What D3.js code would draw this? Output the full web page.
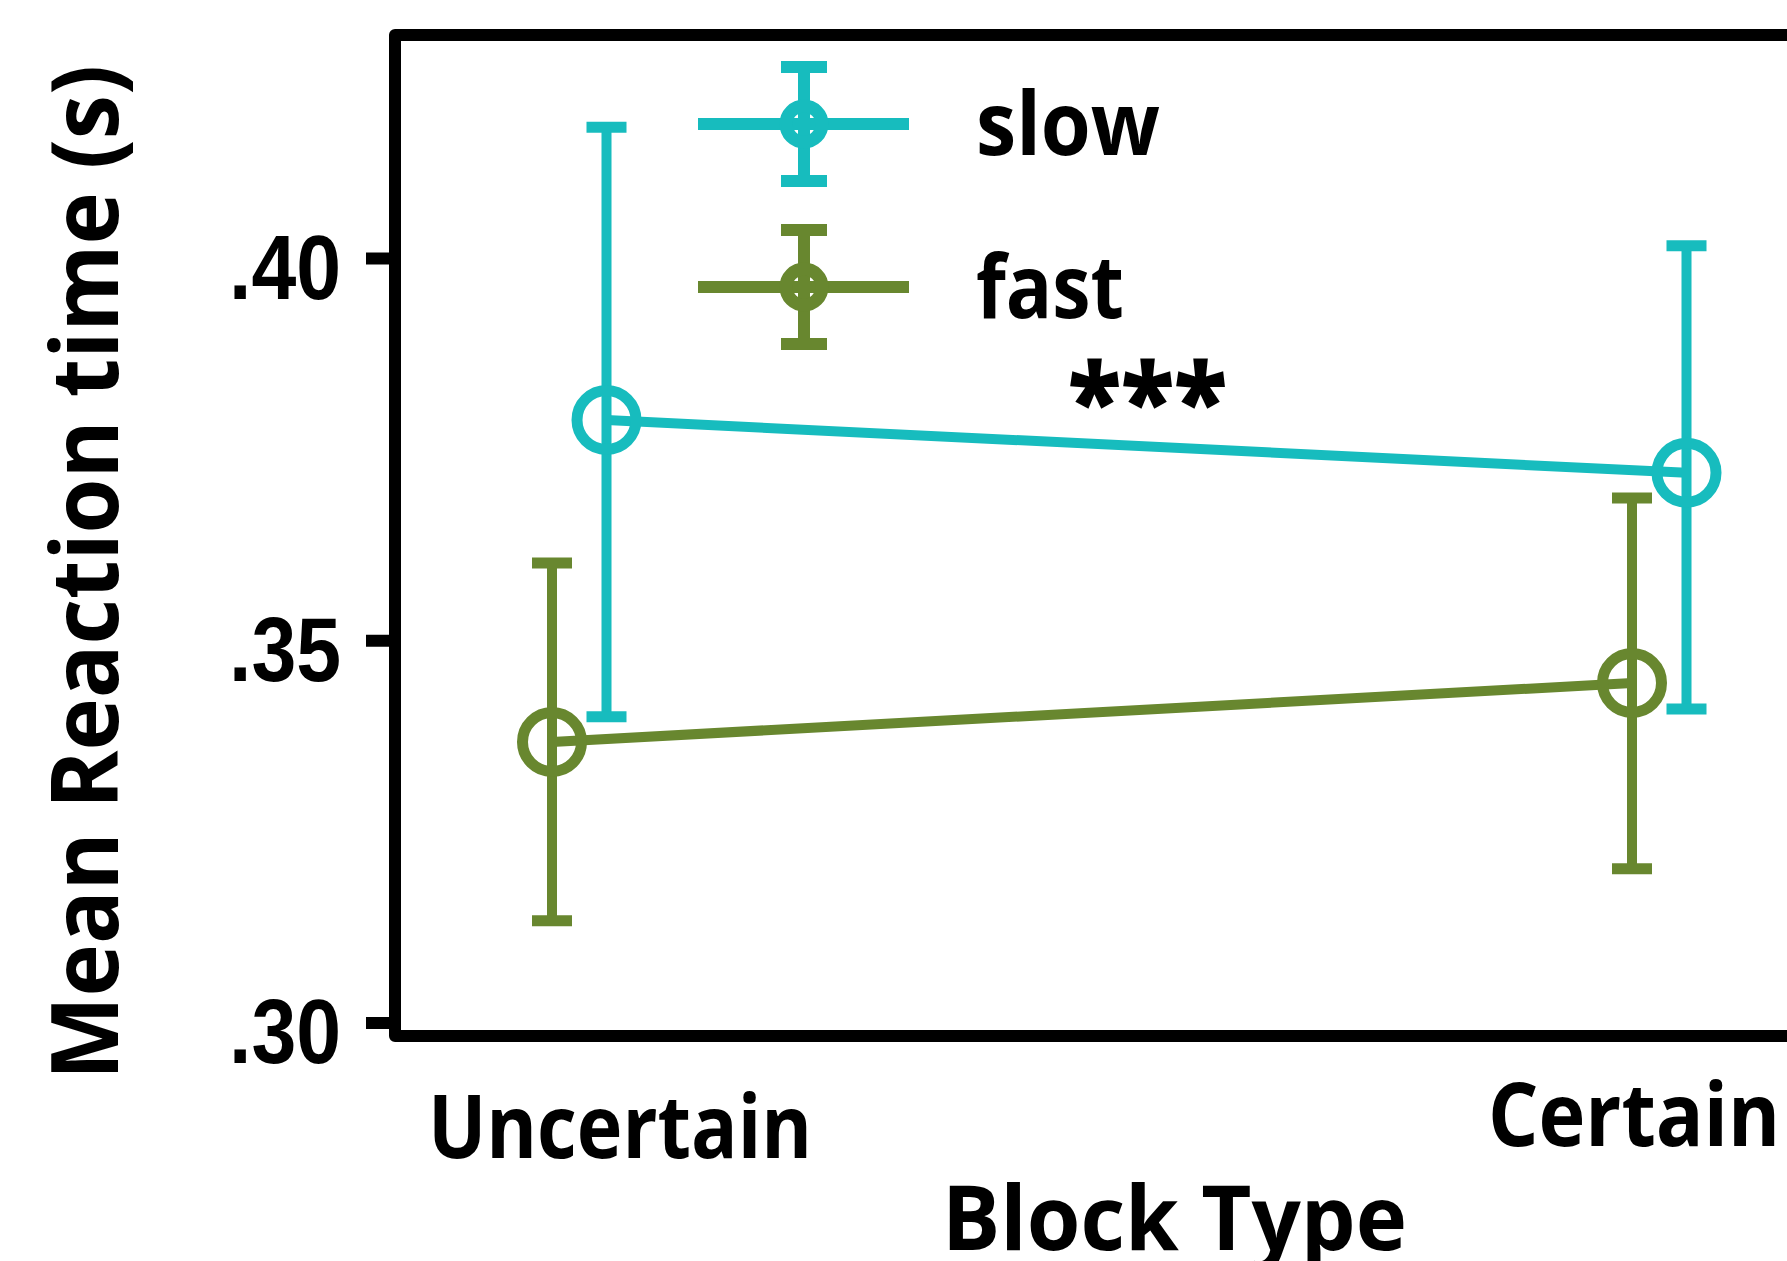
<!DOCTYPE html>
<html>
<head>
<meta charset="utf-8">
<script src="https://cdn.jsdelivr.net/npm/d3@7/dist/d3.min.js"></script>
<style>
  html, body { margin: 0; padding: 0; background: #ffffff; }
  svg { display: block; }
</style>
</head>
<body>
<svg id="chart" width="1787" height="1261"></svg>
<script>
// ---------------- data ----------------
const categories = ["Uncertain", "Certain"];
const seriesNames = ["slow", "fast"];
const slowMean  = [0.3788, 0.3719];
const slowUpper = [0.4171, 0.4016];
const slowLower = [0.3400, 0.3410];
const fastMean  = [0.3367, 0.3444];
const fastUpper = [0.3601, 0.3686];
const fastLower = [0.3133, 0.3201];
const yTicks = [0.30, 0.35, 0.40];
const yTickLabels = [".30", ".35", ".40"];
const yTitle = "Mean Reaction time (s)";
const xTitle = "Block Type";
const significance = "***";

// ---------------- styling / layout ----------------
const colors = { slow: "#17bcbe", fast: "#68872f" };
const dodge = { slow: 27.5, fast: -27 };
const FONT = "'Open Sans', 'DejaVu Sans', sans-serif";
const NUMFONT = "'Liberation Sans', Arial, sans-serif";

const series = [
  { name: "fast", mean: fastMean, upper: fastUpper, lower: fastLower },
  { name: "slow", mean: slowMean, upper: slowUpper, lower: slowLower }
];

const svg = d3.select("#chart");

const y = d3.scaleLinear().domain([0.30, 0.40]).range([1022.5, 258]);
const x = d3.scalePoint().domain(categories).range([579, 1659]);

const frameLeft = 395, frameTop = 35, frameBottom = 1036;

// frame (open on the right; it runs off the picture)
svg.append("path")
  .attr("d", `M1800,${frameTop} H${frameLeft} V${frameBottom} H1800`)
  .attr("fill", "none")
  .attr("stroke", "#000")
  .attr("stroke-width", 12)
  .attr("stroke-linejoin", "round");

// y axis
const yAxis = svg.append("g")
  .attr("transform", `translate(${frameLeft},0)`)
  .call(d3.axisLeft(y).tickValues(yTicks)
        .tickFormat((d, i) => yTickLabels[i]).tickSize(29).tickPadding(25));
yAxis.select(".domain").remove();
yAxis.selectAll(".tick line").attr("stroke", "#000").attr("stroke-width", 12);
yAxis.selectAll(".tick text")
  .attr("x", -54)
  .attr("dy", null)
  .attr("y", 40)
  .attr("fill", "#000")
  .attr("font-family", NUMFONT)
  .attr("font-weight", 700)
  .attr("font-size", 91)
  .attr("text-anchor", "end")
  .attr("textLength", 112)
  .attr("lengthAdjust", "spacingAndGlyphs");

// x category labels
const xLabelOffset = { Uncertain: 41, Certain: -25 };
const xLabelBaseline = { Uncertain: 1158, Certain: 1146 };
const xLabelLength = { Uncertain: 384, Certain: 292 };
svg.append("g").selectAll("text")
  .data(categories).join("text")
  .attr("x", d => x(d) + xLabelOffset[d])
  .attr("y", d => xLabelBaseline[d])
  .attr("text-anchor", "middle")
  .attr("font-family", FONT).attr("font-weight", 700).attr("font-size", 88)
  .attr("textLength", d => xLabelLength[d])
  .attr("lengthAdjust", "spacingAndGlyphs")
  .text(d => d);

// axis titles
svg.append("text")
  .attr("x", 1174.5).attr("y", 1250)
  .attr("text-anchor", "middle")
  .attr("font-family", FONT).attr("font-weight", 700).attr("font-size", 90)
  .attr("textLength", 465).attr("lengthAdjust", "spacingAndGlyphs")
  .text(xTitle);

svg.append("text")
  .attr("transform", "translate(118,572.5) rotate(-90)")
  .attr("text-anchor", "middle")
  .attr("font-family", FONT).attr("font-weight", 700).attr("font-size", 94)
  .attr("textLength", 1015).attr("lengthAdjust", "spacingAndGlyphs")
  .text(yTitle);

// data marks
const plot = svg.append("g");
series.forEach(s => {
  const g = plot.append("g");
  const c = colors[s.name];
  const px = i => x(categories[i]) + dodge[s.name];
  const line = d3.line().x((d, i) => px(i)).y(d => y(d));
  g.append("path").attr("d", line(s.mean))
    .attr("fill", "none").attr("stroke", c).attr("stroke-width", 10);
  categories.forEach((cat, i) => {
    const cx = px(i);
    g.append("line")
      .attr("x1", cx).attr("x2", cx)
      .attr("y1", y(s.upper[i])).attr("y2", y(s.lower[i]))
      .attr("stroke", c).attr("stroke-width", 10);
    [s.upper[i], s.lower[i]].forEach(v => {
      g.append("line")
        .attr("x1", cx - 20).attr("x2", cx + 20)
        .attr("y1", y(v)).attr("y2", y(v))
        .attr("stroke", c).attr("stroke-width", 11);
    });
    g.append("circle")
      .attr("cx", cx).attr("cy", y(s.mean[i])).attr("r", 29.5)
      .attr("fill", "none").attr("stroke", c).attr("stroke-width", 11);
  });
});

// significance marker
svg.append("text")
  .attr("x", 1147.5).attr("y", 438)
  .attr("text-anchor", "middle")
  .attr("font-family", FONT).attr("font-weight", 800).attr("font-size", 104)
  .attr("textLength", 159).attr("lengthAdjust", "spacingAndGlyphs")
  .text(significance);

// legend
const legendY = { slow: 124, fast: 287 };
const legendTextLen = { slow: 184, fast: 148 };
const lx = 804;
seriesNames.forEach(name => {
  const g = svg.append("g");
  const c = colors[name];
  const cy = legendY[name];
  g.append("line").attr("x1", 698).attr("x2", 909).attr("y1", cy).attr("y2", cy)
    .attr("stroke", c).attr("stroke-width", 12);
  g.append("line").attr("x1", lx).attr("x2", lx).attr("y1", cy - 57).attr("y2", cy + 57)
    .attr("stroke", c).attr("stroke-width", 12);
  [cy - 57, cy + 57].forEach(v => {
    g.append("line").attr("x1", lx - 23).attr("x2", lx + 23).attr("y1", v).attr("y2", v)
      .attr("stroke", c).attr("stroke-width", 12);
  });
  g.append("circle").attr("cx", lx).attr("cy", cy).attr("r", 18)
    .attr("fill", "none").attr("stroke", c).attr("stroke-width", 13);
  g.append("text")
    .attr("x", 976).attr("y", cy + 31)
    .attr("font-family", FONT).attr("font-weight", 700).attr("font-size", 88)
    .attr("textLength", legendTextLen[name]).attr("lengthAdjust", "spacingAndGlyphs")
    .text(name);
});
</script>
</body>
</html>
